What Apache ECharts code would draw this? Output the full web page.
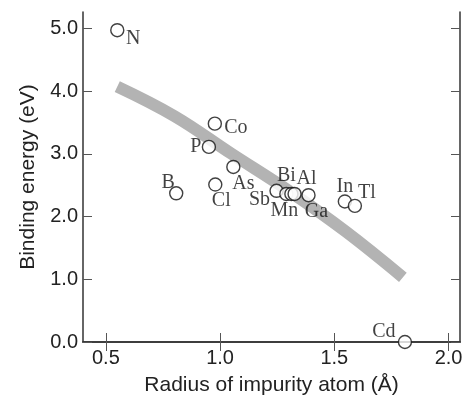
<!DOCTYPE html>
<html>
<head>
<meta charset="utf-8">
<script src="https://cdn.jsdelivr.net/npm/echarts@6/dist/echarts.min.js"></script>
<style>
  html, body { margin: 0; padding: 0; background: #fff; }
  #chart { width: 467px; height: 401px; }
</style>
</head>
<body>
<div id="chart"></div>
<script>
// impurity atoms: radius (Å) and binding energy (eV)
var atoms    = ['N', 'Co', 'P', 'As', 'B', 'Cl', 'Sb', 'Bi', 'Mn', 'Al', 'Ga', 'In', 'Tl', 'Cd'];
var radius   = [0.55, 0.977, 0.951, 1.058, 0.808, 0.979, 1.247, 1.29, 1.312, 1.326, 1.387, 1.546, 1.59, 1.809];
var energy   = [4.97, 3.48, 3.11, 2.79, 2.37, 2.51, 2.41, 2.36, 2.36, 2.36, 2.34, 2.24, 2.17, 0.0];

// thick grey trend curve
var trendX   = [0.55, 0.8, 1.05, 1.3, 1.55, 1.8];
var trendY   = [4.07, 3.6, 3.0, 2.41, 1.76, 1.03];

var xTicks   = [0.5, 1.0, 1.5, 2.0];
var yTicks   = [0, 1, 2, 3, 4, 5];

// where each label sits relative to its circle (px)
var labelOffset = {
  N: [16, 9], Co: [21, 4], P: [-13, 0], As: [10, 17], B: [-8, -11], Cl: [6, 16],
  Sb: [-17, 9], Bi: [0, -18], Mn: [-7, 17], Al: [12, -15], Ga: [8, 17],
  In: [0, -15], Tl: [12, -13], Cd: [-21, -10]
};

var chart = echarts.init(document.getElementById('chart'));

var axisCommon = {
  axisLine: { lineStyle: { color: '#333', width: 1.5 } },
  splitLine: { show: false }
};
var nameStyle = { fontFamily: 'Liberation Sans', fontSize: 21, color: '#222' };

var points = atoms.map(function (name, i) {
  return {
    name: name,
    value: [radius[i], energy[i]],
    label: { offset: labelOffset[name] }
  };
});

var option = {
  animation: false,
  grid: { left: 83, right: 7, top: 12, bottom: 59, outerBoundsMode: 'none' },
  xAxis: [
    Object.assign({
      type: 'value', min: 0.4, max: 2.05, position: 'bottom',
      name: 'Radius of impurity atom (Å)', nameLocation: 'middle', nameGap: 33,
      nameTextStyle: nameStyle,
      axisTick: { inside: true, length: 9, lineStyle: { color: '#555' }, customValues: xTicks },
      axisLabel: {
        customValues: xTicks, margin: 6, fontFamily: 'Liberation Sans', fontSize: 20, color: '#222',
        formatter: function (v) { return v.toFixed(1); }
      }
    }, axisCommon),
    Object.assign({
      type: 'value', min: 0.4, max: 2.05, position: 'top',
      axisTick: { inside: true, length: 9, lineStyle: { color: '#555' }, customValues: xTicks },
      axisLabel: { show: false }
    }, axisCommon)
  ],
  yAxis: [
    Object.assign({
      type: 'value', min: 0, max: 5.26, position: 'left',
      name: 'Binding energy (eV)', nameLocation: 'middle', nameGap: 44,
      nameTextStyle: nameStyle,
      axisTick: { inside: true, length: 9, lineStyle: { color: '#555' }, customValues: yTicks },
      axisLabel: {
        customValues: yTicks, margin: 5, fontFamily: 'Liberation Sans', fontSize: 20, color: '#222',
        formatter: function (v) { return v.toFixed(1); }
      }
    }, axisCommon),
    Object.assign({
      type: 'value', min: 0, max: 5.26, position: 'right',
      axisTick: { inside: true, length: 9, lineStyle: { color: '#555' }, customValues: yTicks },
      axisLabel: { show: false }
    }, axisCommon)
  ],
  series: [
    {
      type: 'line', smooth: 0.4, showSymbol: false, z: 1,
      data: trendX.map(function (x, i) { return [x, trendY[i]]; }),
      lineStyle: { color: '#b3b3b3', width: 12, cap: 'butt' }
    },
    {
      type: 'scatter', z: 3, symbol: 'circle', symbolSize: 13,
      itemStyle: { color: '#fff', borderColor: '#111', borderWidth: 1.4 },
      label: {
        show: true, position: 'inside', color: '#111',
        fontFamily: 'Liberation Serif', fontSize: 20,
        formatter: '{b}'
      },
      data: points
    }
  ]
};

chart.setOption(option);
</script>
</body>
</html>
